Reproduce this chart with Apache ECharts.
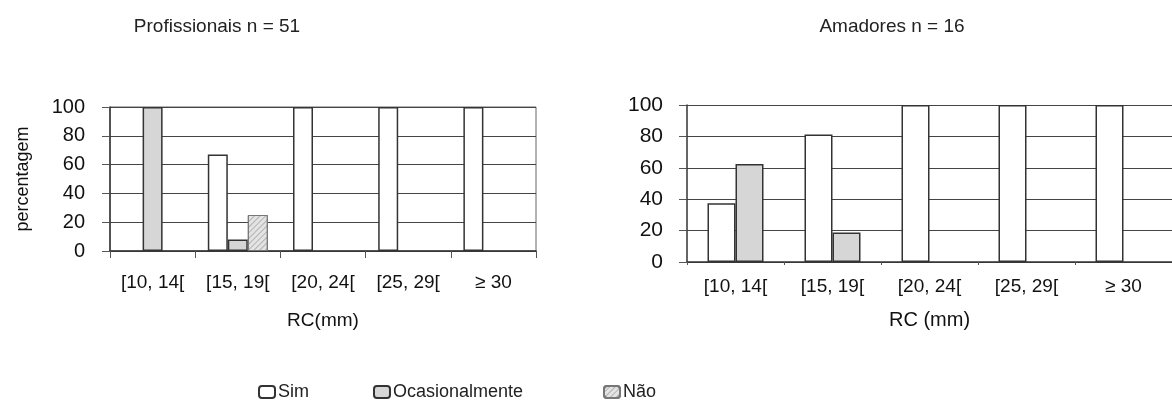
<!DOCTYPE html>
<html>
<head>
<meta charset="utf-8">
<script src="https://cdn.jsdelivr.net/npm/echarts@6/dist/echarts.min.js"></script>
<style>
html,body{margin:0;padding:0;background:#fff;}
#chart{width:1172px;height:407px;}
</style>
</head>
<body>
<div id="chart"></div>
<script>
// ---- data ----
const categories = ['[10, 14[', '[15, 19[', '[20, 24[', '[25, 29[', '\u2265 30'];
const yTicks = [0, 20, 40, 60, 80, 100];
const seriesNames = ['Sim', 'Ocasionalmente', 'N\u00e3o'];
const titleLeft = 'Profissionais n = 51';
const titleRight = 'Amadores n = 16';
// Profissionais (%)
const profSim = [0, 67, 100, 100, 100];
const profOcas = [100, 8, 0, 0, 0];
const profNao = [0, 25, 0, 0, 0];
// Amadores (%)
const amaSim = [37.5, 81.25, 100, 100, 100];
const amaOcas = [62.5, 18.75, 0, 0, 0];

// ---- styles ----
const narrow = "'Liberation Sans Narrow', 'Liberation Sans', sans-serif";
const sans = "'Liberation Sans', Arial, sans-serif";
const styles = {
  'Sim': {color: '#ffffff', borderColor: '#333', borderWidth: 1.5},
  'Ocasionalmente': {color: '#d6d6d6', borderColor: '#333', borderWidth: 1.5},
  'N\u00e3o': {color: '#e4e4e4', borderColor: '#777', borderWidth: 1,
    decal: {symbol: 'rect', dashArrayX: [1, 0], dashArrayY: [1, 3], rotation: -Math.PI / 4, color: 'rgba(0,0,0,0.22)'}}
};

function mkX(idx, margin, nameGap, labelSize, name, nameSize, tickLen) {
  return {
    type: 'category', gridIndex: idx, data: categories,
    axisLine: {lineStyle: {color: '#333', width: 1.5}},
    axisTick: {show: true, length: tickLen, lineStyle: {color: '#555'}},
    axisLabel: {margin: margin, color: '#111', fontSize: labelSize, fontFamily: sans, interval: 0},
    name: name, nameLocation: 'middle', nameGap: nameGap,
    nameTextStyle: {color: '#111', fontSize: nameSize, fontFamily: narrow}
  };
}
function mkY(idx, labelSize, name, margin) {
  return {
    type: 'value', gridIndex: idx, min: 0, max: 100, interval: 20,
    axisLine: {show: true, lineStyle: {color: '#333', width: 1.5}},
    axisTick: {show: true, length: 8, lineStyle: {color: '#555'}},
    axisLabel: {margin: margin, color: '#111', fontSize: labelSize, fontFamily: sans,
      formatter: v => yTicks.indexOf(v) >= 0 ? String(v) : ''},
    splitLine: {show: true, lineStyle: {color: '#444', width: 1.2}},
    name: name, nameLocation: 'middle', nameGap: 78, nameRotate: 90,
    nameTextStyle: {color: '#111', fontSize: 18, fontFamily: narrow}
  };
}
function mkBar(name, data, idx, width) {
  return {
    type: 'bar', name: name, data: data.map(v => v === 0 ? null : v),
    xAxisIndex: idx, yAxisIndex: idx,
    barWidth: width, barGap: '0%', itemStyle: styles[name], emphasis: {disabled: true}
  };
}
function mkLegend(name, left) {
  return {
    data: [name], left: left, top: 378, itemWidth: 16, itemHeight: 12, itemGap: 4,
    textStyle: {fontSize: 18, fontFamily: narrow, color: '#222', padding: [0, 0, 0, -2]},
    selectedMode: false
  };
}

const chart = echarts.init(document.getElementById('chart'), null, {renderer: 'canvas'});
chart.setOption({
  backgroundColor: '#ffffff',
  animation: false,
  title: [
    {text: titleLeft, left: 212, top: 12, textAlign: 'center',
     textStyle: {fontSize: 19, fontWeight: 'normal', color: '#222', fontFamily: narrow}},
    {text: titleRight, left: 887, top: 12, textAlign: 'center',
     textStyle: {fontSize: 19, fontWeight: 'normal', color: '#222', fontFamily: narrow}}
  ],
  legend: [mkLegend('Sim', 253), mkLegend('Ocasionalmente', 368), mkLegend('N\u00e3o', 598)],
  grid: [
    {left: 110, top: 107, width: 426, height: 144, show: true, borderColor: '#666', borderWidth: 1, backgroundColor: 'transparent'},
    {left: 687, top: 105, width: 488, height: 157}
  ],
  xAxis: [
    mkX(0, 22, 60, 19, 'RC(mm)', 19, 7),
    mkX(1, 15, 48, 19, 'RC (mm)', 20, 3)
  ],
  yAxis: [mkY(0, 20, 'percentagem', 25), mkY(1, 21, '', 24)],
  series: [
    mkBar('Sim', profSim, 0, 20),
    mkBar('Ocasionalmente', profOcas, 0, 20),
    mkBar('N\u00e3o', profNao, 0, 20),
    mkBar('Sim', amaSim, 1, 28),
    mkBar('Ocasionalmente', amaOcas, 1, 28)
  ]
});
</script>
</body>
</html>
